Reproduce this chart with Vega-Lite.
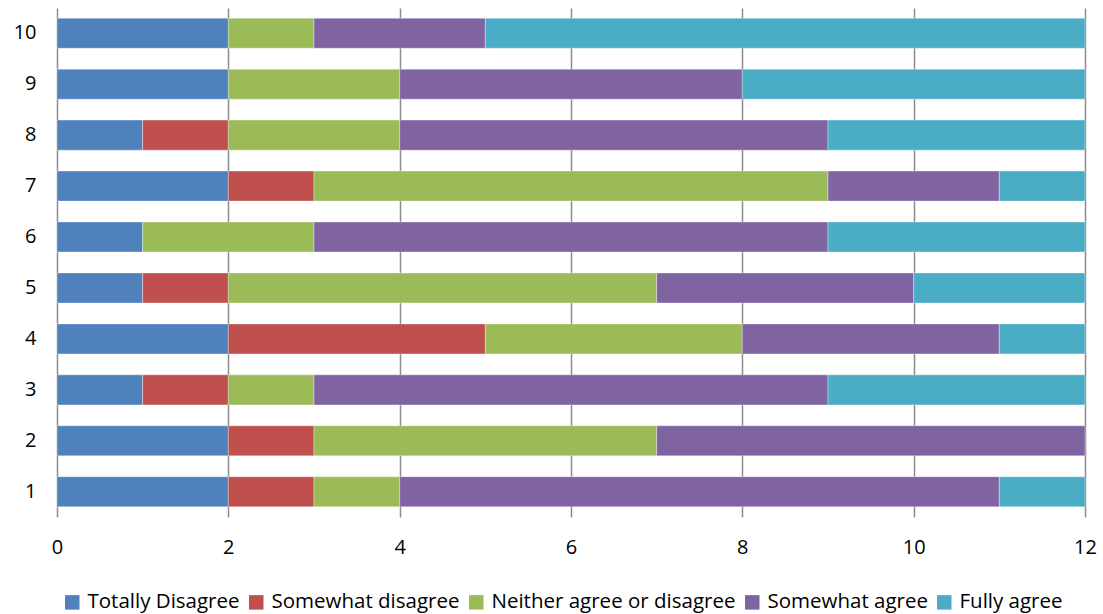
{
  "$schema": "https://vega.github.io/schema/vega-lite/v6.json",
  "autosize": "none",
  "width": 1028,
  "height": 509,
  "padding": {"left": 57, "top": 8, "right": 18, "bottom": 97},
  "background": "white",
  "config": {
    "font": "Open Sans",
    "view": {"stroke": null}
  },
  "data": {
    "values": [
      {"q": "10", "cat": "Totally Disagree", "o": 1, "v": 2},
      {"q": "10", "cat": "Neither agree or disagree", "o": 3, "v": 1},
      {"q": "10", "cat": "Somewhat agree", "o": 4, "v": 2},
      {"q": "10", "cat": "Fully agree", "o": 5, "v": 7},
      {"q": "9", "cat": "Totally Disagree", "o": 1, "v": 2},
      {"q": "9", "cat": "Neither agree or disagree", "o": 3, "v": 2},
      {"q": "9", "cat": "Somewhat agree", "o": 4, "v": 4},
      {"q": "9", "cat": "Fully agree", "o": 5, "v": 4},
      {"q": "8", "cat": "Totally Disagree", "o": 1, "v": 1},
      {"q": "8", "cat": "Somewhat disagree", "o": 2, "v": 1},
      {"q": "8", "cat": "Neither agree or disagree", "o": 3, "v": 2},
      {"q": "8", "cat": "Somewhat agree", "o": 4, "v": 5},
      {"q": "8", "cat": "Fully agree", "o": 5, "v": 3},
      {"q": "7", "cat": "Totally Disagree", "o": 1, "v": 2},
      {"q": "7", "cat": "Somewhat disagree", "o": 2, "v": 1},
      {"q": "7", "cat": "Neither agree or disagree", "o": 3, "v": 6},
      {"q": "7", "cat": "Somewhat agree", "o": 4, "v": 2},
      {"q": "7", "cat": "Fully agree", "o": 5, "v": 1},
      {"q": "6", "cat": "Totally Disagree", "o": 1, "v": 1},
      {"q": "6", "cat": "Neither agree or disagree", "o": 3, "v": 2},
      {"q": "6", "cat": "Somewhat agree", "o": 4, "v": 6},
      {"q": "6", "cat": "Fully agree", "o": 5, "v": 3},
      {"q": "5", "cat": "Totally Disagree", "o": 1, "v": 1},
      {"q": "5", "cat": "Somewhat disagree", "o": 2, "v": 1},
      {"q": "5", "cat": "Neither agree or disagree", "o": 3, "v": 5},
      {"q": "5", "cat": "Somewhat agree", "o": 4, "v": 3},
      {"q": "5", "cat": "Fully agree", "o": 5, "v": 2},
      {"q": "4", "cat": "Totally Disagree", "o": 1, "v": 2},
      {"q": "4", "cat": "Somewhat disagree", "o": 2, "v": 3},
      {"q": "4", "cat": "Neither agree or disagree", "o": 3, "v": 3},
      {"q": "4", "cat": "Somewhat agree", "o": 4, "v": 3},
      {"q": "4", "cat": "Fully agree", "o": 5, "v": 1},
      {"q": "3", "cat": "Totally Disagree", "o": 1, "v": 1},
      {"q": "3", "cat": "Somewhat disagree", "o": 2, "v": 1},
      {"q": "3", "cat": "Neither agree or disagree", "o": 3, "v": 1},
      {"q": "3", "cat": "Somewhat agree", "o": 4, "v": 6},
      {"q": "3", "cat": "Fully agree", "o": 5, "v": 3},
      {"q": "2", "cat": "Totally Disagree", "o": 1, "v": 2},
      {"q": "2", "cat": "Somewhat disagree", "o": 2, "v": 1},
      {"q": "2", "cat": "Neither agree or disagree", "o": 3, "v": 4},
      {"q": "2", "cat": "Somewhat agree", "o": 4, "v": 5},
      {"q": "1", "cat": "Totally Disagree", "o": 1, "v": 2},
      {"q": "1", "cat": "Somewhat disagree", "o": 2, "v": 1},
      {"q": "1", "cat": "Neither agree or disagree", "o": 3, "v": 1},
      {"q": "1", "cat": "Somewhat agree", "o": 4, "v": 7},
      {"q": "1", "cat": "Fully agree", "o": 5, "v": 1}
    ]
  },
  "mark": {"type": "bar", "stroke": "white", "strokeWidth": 0.6, "strokeOpacity": 0.6},
  "encoding": {
    "y": {
      "field": "q",
      "type": "ordinal",
      "sort": ["10", "9", "8", "7", "6", "5", "4", "3", "2", "1"],
      "scale": {"paddingInner": 0.41, "paddingOuter": 0.2},
      "axis": {
        "title": null,
        "domain": false,
        "ticks": false,
        "grid": false,
        "labelPadding": 21,
        "labelFontSize": 20,
        "labelColor": "#000000",
        "labelFont": "Open Sans"
      }
    },
    "x": {
      "field": "v",
      "type": "quantitative",
      "stack": "zero",
      "scale": {"domain": [0, 12], "nice": false},
      "axis": {
        "title": null,
        "values": [0, 2, 4, 6, 8, 10, 12],
        "domain": false,
        "ticks": false,
        "grid": true,
        "gridColor": "#8c8c8c",
        "gridWidth": 1.5,
        "labelFlush": false,
        "labelPadding": 20,
        "labelFontSize": 20,
        "labelColor": "#000000",
        "labelFont": "Open Sans"
      }
    },
    "color": {
      "field": "cat",
      "type": "nominal",
      "sort": ["Totally Disagree", "Somewhat disagree", "Neither agree or disagree", "Somewhat agree", "Fully agree"],
      "scale": {
        "domain": ["Totally Disagree", "Somewhat disagree", "Neither agree or disagree", "Somewhat agree", "Fully agree"],
        "range": ["#4F81BD", "#C0504D", "#9BBB59", "#8064A2", "#4BACC6"]
      },
      "legend": {
        "title": null,
        "orient": "none",
        "direction": "horizontal",
        "legendX": 5,
        "legendY": 584,
        "symbolType": "square",
        "symbolSize": 210,
        "symbolStrokeWidth": 0,
        "labelFontSize": 20.5,
        "labelFont": "Open Sans",
        "labelColor": "#000000",
        "labelOffset": 5,
        "columnPadding": 6,
        "labelLimit": 400
      }
    },
    "order": {"field": "o", "type": "quantitative"}
  }
}
